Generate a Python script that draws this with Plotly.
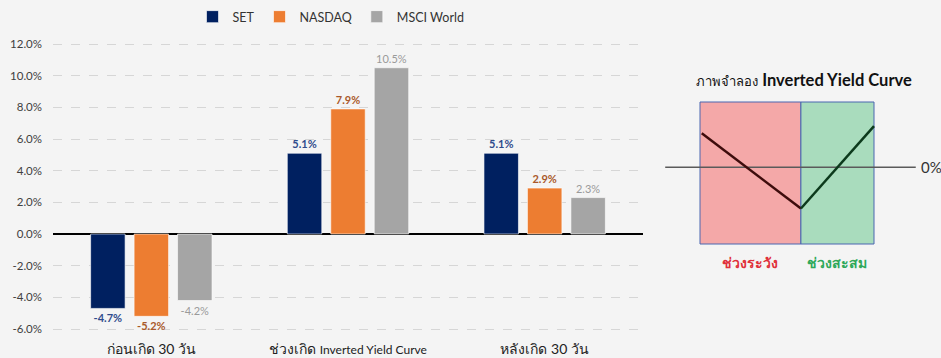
import plotly.graph_objects as go

# ---------------- data ----------------
categories = ["ก่อนเกิด 30 วัน", "ช่วงเกิด Inverted Yield Curve", "หลังเกิด 30 วัน"]
set_vals = [-4.7, 5.1, 5.1]
nasdaq_vals = [-5.2, 7.9, 2.9]
msci_vals = [-4.2, 10.5, 2.3]
y_ticks = [-6, -4, -2, 0, 2, 4, 6, 8, 10, 12]
y_ticktext = [f"{v:.1f}%" for v in y_ticks]

# schematic (illustrative) inverted-yield-curve diagram, in its own units
zone_bounds = [0.0, 5.8, 10.0]
zone_names = ["ช่วงระวัง", "ช่วงสะสม"]
zero_level = 5.4
curve_left_x = [0.1, 5.8]
curve_left_y = [7.8, 2.5]
curve_right_x = [5.8, 10.0]
curve_right_y = [2.5, 8.3]
zero_line_x = [-2.0, 12.4]

BG = "#f4f4f4"
FONT = "Lato, 'Noto Sans', 'DejaVu Sans', sans-serif"
W, H = 941, 358

fig = go.Figure()

series = [
    ("SET", set_vals, "#002060", "#2f4b8c", "bold"),
    ("NASDAQ", nasdaq_vals, "#ED7D31", "#a9592a", "bold"),
    ("MSCI World", msci_vals, "#A5A5A5", "#9a9a9a", "normal"),
]
for name, vals, color, tcolor, weight in series:
    fig.add_trace(go.Bar(
        x=categories, y=vals, name=name,
        marker=dict(color=color, line=dict(color="rgba(255,255,255,0.6)", width=1)),
        texttemplate="%{y:.1f}%", textposition="outside", cliponaxis=False,
        textfont=dict(size=11, color=tcolor, family=FONT, weight=weight),
        xaxis="x", yaxis="y",
    ))

# diagram traces
fig.add_trace(go.Scatter(x=zero_line_x, y=[zero_level, zero_level], mode="lines",
                         line=dict(color="#5a5a5a", width=1.5), showlegend=False,
                         hoverinfo="skip", xaxis="x2", yaxis="y2"))
fig.add_trace(go.Scatter(x=curve_left_x, y=curve_left_y, mode="lines",
                         line=dict(color="#3e0c0c", width=2.5), showlegend=False,
                         hoverinfo="skip", xaxis="x2", yaxis="y2"))
fig.add_trace(go.Scatter(x=curve_right_x, y=curve_right_y, mode="lines",
                         line=dict(color="#0c3a1c", width=2.5), showlegend=False,
                         hoverinfo="skip", xaxis="x2", yaxis="y2"))

zone_fill = ["#f4a8a8", "#a9dcbd"]
zone_text = ["#e0303a", "#2ea85a"]
for i in range(2):
    fig.add_shape(type="rect", xref="x2", yref="y2",
                  x0=zone_bounds[i], x1=zone_bounds[i + 1], y0=0, y1=10,
                  fillcolor=zone_fill[i], line=dict(color="#4a66b0", width=1),
                  layer="below")
    fig.add_annotation(xref="x2", yref="y2",
                       x=(zone_bounds[i] + zone_bounds[i + 1]) / 2, y=-1.3,
                       text="<b>" + zone_names[i] + "</b>", showarrow=False,
                       font=dict(size=14, color=zone_text[i], family=FONT))

fig.add_annotation(xref="x2", yref="y2", x=zero_line_x[1] + 0.2, y=zero_level,
                   text="0%", showarrow=False, xanchor="left",
                   font=dict(size=15, color="#333333", family=FONT))
fig.add_annotation(xref="x2", yref="y2", x=5.95, y=11.55,
                   text="<span style='font-size:13px'>ภาพจำลอง</span> <b>Inverted Yield Curve</b>",
                   showarrow=False,
                   font=dict(size=16.5, color="#111111", family=FONT))

ticktext = [c.replace("Inverted Yield Curve",
                      "<span style='font-size:12px'>Inverted Yield Curve</span>") for c in categories]

# main plot area: x 53..643 px, y range mapped so 12% at y=44 and 0% at y=234
ypx_per = (234 - 44) / 12.0
y_lo, y_hi = -6.6, 12.6
top_px = 234 - y_hi * ypx_per
bot_px = 234 - y_lo * ypx_per

fig.update_layout(
    width=W, height=H,
    margin=dict(l=0, r=0, t=0, b=0),
    paper_bgcolor=BG, plot_bgcolor=BG,
    font=dict(family=FONT, color="#333333"),
    barmode="group", bargap=0.337, bargroupgap=0.207,
    showlegend=True,
    legend=dict(orientation="h", x=331 / W, xanchor="center", y=1 - 17 / H, yanchor="middle",
                font=dict(size=12.5, color="#333333", family=FONT), bgcolor="rgba(0,0,0,0)",
                itemwidth=30, traceorder="normal"),
    xaxis=dict(domain=[53 / W, 643 / W], tickvals=categories, ticktext=ticktext,
               tickfont=dict(size=14, color="#222222", family=FONT),
               showgrid=False, zeroline=False, showline=False, ticks="", automargin=False,
               anchor="y"),
    yaxis=dict(domain=[1 - bot_px / H, 1 - top_px / H], range=[y_lo, y_hi],
               tickvals=y_ticks, ticktext=y_ticktext, ticklabelstandoff=10,
               tickfont=dict(size=11.5, color="#404040", family=FONT),
               showgrid=True, gridcolor="#d6d6d6", griddash="dash", gridwidth=1,
               zeroline=True, zerolinecolor="#000000", zerolinewidth=1.5,
               showline=False, ticks="", automargin=False, anchor="x"),
    xaxis2=dict(domain=[660 / W, 941 / W], range=[(660 - 700) / 17.4, (941 - 700) / 17.4],
                visible=False, anchor="y2", fixedrange=True),
    yaxis2=dict(domain=[1 - 290 / H, 1 - 60 / H], range=[(244 - 290) / 14.2, (244 - 60) / 14.2],
                visible=False, anchor="x2", fixedrange=True),
)

fig.write_html("out.html")
